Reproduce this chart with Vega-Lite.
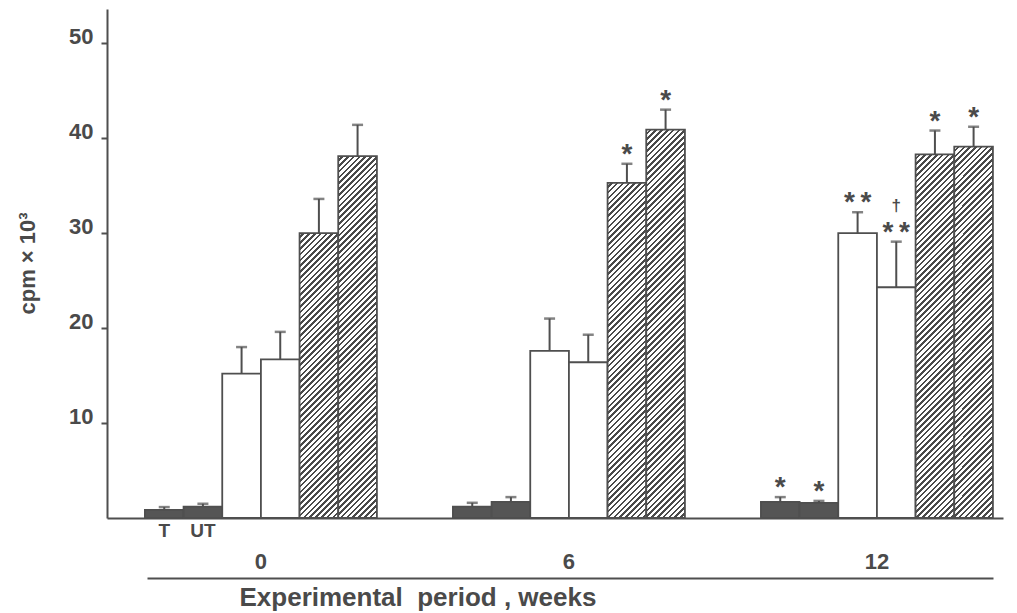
{
"$schema":"https://vega.github.io/schema/vega-lite/v6.json",
"width":896,"height":509,
"autosize":"none",
"padding":{"left":107,"top":9,"right":14,"bottom":95},
"background":"white",
"config":{"view":{"stroke":null},"font":"Liberation Sans"},
"params":[{"name":"hatch","value":[
{"offset":0,"color":"#fff"},{"offset":0.007,"color":"#fff"},{"offset":0.007,"color":"#4a4a4a"},{"offset":0.0125,"color":"#4a4a4a"},
{"offset":0.0125,"color":"#fff"},{"offset":0.0195,"color":"#fff"},{"offset":0.0195,"color":"#4a4a4a"},{"offset":0.025,"color":"#4a4a4a"},
{"offset":0.025,"color":"#fff"},{"offset":0.032,"color":"#fff"},{"offset":0.032,"color":"#4a4a4a"},{"offset":0.0375,"color":"#4a4a4a"},
{"offset":0.0375,"color":"#fff"},{"offset":0.0445,"color":"#fff"},{"offset":0.0445,"color":"#4a4a4a"},{"offset":0.05,"color":"#4a4a4a"},
{"offset":0.05,"color":"#fff"},{"offset":0.057,"color":"#fff"},{"offset":0.057,"color":"#4a4a4a"},{"offset":0.0625,"color":"#4a4a4a"},
{"offset":0.0625,"color":"#fff"},{"offset":0.0695,"color":"#fff"},{"offset":0.0695,"color":"#4a4a4a"},{"offset":0.075,"color":"#4a4a4a"},
{"offset":0.075,"color":"#fff"},{"offset":0.082,"color":"#fff"},{"offset":0.082,"color":"#4a4a4a"},{"offset":0.0875,"color":"#4a4a4a"},
{"offset":0.0875,"color":"#fff"},{"offset":0.0945,"color":"#fff"},{"offset":0.0945,"color":"#4a4a4a"},{"offset":0.1,"color":"#4a4a4a"},
{"offset":0.1,"color":"#fff"},{"offset":0.107,"color":"#fff"},{"offset":0.107,"color":"#4a4a4a"},{"offset":0.1125,"color":"#4a4a4a"},
{"offset":0.1125,"color":"#fff"},{"offset":0.1195,"color":"#fff"},{"offset":0.1195,"color":"#4a4a4a"},{"offset":0.125,"color":"#4a4a4a"},
{"offset":0.125,"color":"#fff"},{"offset":0.132,"color":"#fff"},{"offset":0.132,"color":"#4a4a4a"},{"offset":0.1375,"color":"#4a4a4a"},
{"offset":0.1375,"color":"#fff"},{"offset":0.1445,"color":"#fff"},{"offset":0.1445,"color":"#4a4a4a"},{"offset":0.15,"color":"#4a4a4a"},
{"offset":0.15,"color":"#fff"},{"offset":0.157,"color":"#fff"},{"offset":0.157,"color":"#4a4a4a"},{"offset":0.1625,"color":"#4a4a4a"},
{"offset":0.1625,"color":"#fff"},{"offset":0.1695,"color":"#fff"},{"offset":0.1695,"color":"#4a4a4a"},{"offset":0.175,"color":"#4a4a4a"},
{"offset":0.175,"color":"#fff"},{"offset":0.182,"color":"#fff"},{"offset":0.182,"color":"#4a4a4a"},{"offset":0.1875,"color":"#4a4a4a"},
{"offset":0.1875,"color":"#fff"},{"offset":0.1945,"color":"#fff"},{"offset":0.1945,"color":"#4a4a4a"},{"offset":0.2,"color":"#4a4a4a"},
{"offset":0.2,"color":"#fff"},{"offset":0.207,"color":"#fff"},{"offset":0.207,"color":"#4a4a4a"},{"offset":0.2125,"color":"#4a4a4a"},
{"offset":0.2125,"color":"#fff"},{"offset":0.2195,"color":"#fff"},{"offset":0.2195,"color":"#4a4a4a"},{"offset":0.225,"color":"#4a4a4a"},
{"offset":0.225,"color":"#fff"},{"offset":0.232,"color":"#fff"},{"offset":0.232,"color":"#4a4a4a"},{"offset":0.2375,"color":"#4a4a4a"},
{"offset":0.2375,"color":"#fff"},{"offset":0.2445,"color":"#fff"},{"offset":0.2445,"color":"#4a4a4a"},{"offset":0.25,"color":"#4a4a4a"},
{"offset":0.25,"color":"#fff"},{"offset":0.257,"color":"#fff"},{"offset":0.257,"color":"#4a4a4a"},{"offset":0.2625,"color":"#4a4a4a"},
{"offset":0.2625,"color":"#fff"},{"offset":0.2695,"color":"#fff"},{"offset":0.2695,"color":"#4a4a4a"},{"offset":0.275,"color":"#4a4a4a"},
{"offset":0.275,"color":"#fff"},{"offset":0.282,"color":"#fff"},{"offset":0.282,"color":"#4a4a4a"},{"offset":0.2875,"color":"#4a4a4a"},
{"offset":0.2875,"color":"#fff"},{"offset":0.2945,"color":"#fff"},{"offset":0.2945,"color":"#4a4a4a"},{"offset":0.3,"color":"#4a4a4a"},
{"offset":0.3,"color":"#fff"},{"offset":0.307,"color":"#fff"},{"offset":0.307,"color":"#4a4a4a"},{"offset":0.3125,"color":"#4a4a4a"},
{"offset":0.3125,"color":"#fff"},{"offset":0.3195,"color":"#fff"},{"offset":0.3195,"color":"#4a4a4a"},{"offset":0.325,"color":"#4a4a4a"},
{"offset":0.325,"color":"#fff"},{"offset":0.332,"color":"#fff"},{"offset":0.332,"color":"#4a4a4a"},{"offset":0.3375,"color":"#4a4a4a"},
{"offset":0.3375,"color":"#fff"},{"offset":0.3445,"color":"#fff"},{"offset":0.3445,"color":"#4a4a4a"},{"offset":0.35,"color":"#4a4a4a"},
{"offset":0.35,"color":"#fff"},{"offset":0.357,"color":"#fff"},{"offset":0.357,"color":"#4a4a4a"},{"offset":0.3625,"color":"#4a4a4a"},
{"offset":0.3625,"color":"#fff"},{"offset":0.3695,"color":"#fff"},{"offset":0.3695,"color":"#4a4a4a"},{"offset":0.375,"color":"#4a4a4a"},
{"offset":0.375,"color":"#fff"},{"offset":0.382,"color":"#fff"},{"offset":0.382,"color":"#4a4a4a"},{"offset":0.3875,"color":"#4a4a4a"},
{"offset":0.3875,"color":"#fff"},{"offset":0.3945,"color":"#fff"},{"offset":0.3945,"color":"#4a4a4a"},{"offset":0.4,"color":"#4a4a4a"},
{"offset":0.4,"color":"#fff"},{"offset":0.407,"color":"#fff"},{"offset":0.407,"color":"#4a4a4a"},{"offset":0.4125,"color":"#4a4a4a"},
{"offset":0.4125,"color":"#fff"},{"offset":0.4195,"color":"#fff"},{"offset":0.4195,"color":"#4a4a4a"},{"offset":0.425,"color":"#4a4a4a"},
{"offset":0.425,"color":"#fff"},{"offset":0.432,"color":"#fff"},{"offset":0.432,"color":"#4a4a4a"},{"offset":0.4375,"color":"#4a4a4a"},
{"offset":0.4375,"color":"#fff"},{"offset":0.4445,"color":"#fff"},{"offset":0.4445,"color":"#4a4a4a"},{"offset":0.45,"color":"#4a4a4a"},
{"offset":0.45,"color":"#fff"},{"offset":0.457,"color":"#fff"},{"offset":0.457,"color":"#4a4a4a"},{"offset":0.4625,"color":"#4a4a4a"},
{"offset":0.4625,"color":"#fff"},{"offset":0.4695,"color":"#fff"},{"offset":0.4695,"color":"#4a4a4a"},{"offset":0.475,"color":"#4a4a4a"},
{"offset":0.475,"color":"#fff"},{"offset":0.482,"color":"#fff"},{"offset":0.482,"color":"#4a4a4a"},{"offset":0.4875,"color":"#4a4a4a"},
{"offset":0.4875,"color":"#fff"},{"offset":0.4945,"color":"#fff"},{"offset":0.4945,"color":"#4a4a4a"},{"offset":0.5,"color":"#4a4a4a"},
{"offset":0.5,"color":"#fff"},{"offset":0.507,"color":"#fff"},{"offset":0.507,"color":"#4a4a4a"},{"offset":0.5125,"color":"#4a4a4a"},
{"offset":0.5125,"color":"#fff"},{"offset":0.5195,"color":"#fff"},{"offset":0.5195,"color":"#4a4a4a"},{"offset":0.525,"color":"#4a4a4a"},
{"offset":0.525,"color":"#fff"},{"offset":0.532,"color":"#fff"},{"offset":0.532,"color":"#4a4a4a"},{"offset":0.5375,"color":"#4a4a4a"},
{"offset":0.5375,"color":"#fff"},{"offset":0.5445,"color":"#fff"},{"offset":0.5445,"color":"#4a4a4a"},{"offset":0.55,"color":"#4a4a4a"},
{"offset":0.55,"color":"#fff"},{"offset":0.557,"color":"#fff"},{"offset":0.557,"color":"#4a4a4a"},{"offset":0.5625,"color":"#4a4a4a"},
{"offset":0.5625,"color":"#fff"},{"offset":0.5695,"color":"#fff"},{"offset":0.5695,"color":"#4a4a4a"},{"offset":0.575,"color":"#4a4a4a"},
{"offset":0.575,"color":"#fff"},{"offset":0.582,"color":"#fff"},{"offset":0.582,"color":"#4a4a4a"},{"offset":0.5875,"color":"#4a4a4a"},
{"offset":0.5875,"color":"#fff"},{"offset":0.5945,"color":"#fff"},{"offset":0.5945,"color":"#4a4a4a"},{"offset":0.6,"color":"#4a4a4a"},
{"offset":0.6,"color":"#fff"},{"offset":0.607,"color":"#fff"},{"offset":0.607,"color":"#4a4a4a"},{"offset":0.6125,"color":"#4a4a4a"},
{"offset":0.6125,"color":"#fff"},{"offset":0.6195,"color":"#fff"},{"offset":0.6195,"color":"#4a4a4a"},{"offset":0.625,"color":"#4a4a4a"},
{"offset":0.625,"color":"#fff"},{"offset":0.632,"color":"#fff"},{"offset":0.632,"color":"#4a4a4a"},{"offset":0.6375,"color":"#4a4a4a"},
{"offset":0.6375,"color":"#fff"},{"offset":0.6445,"color":"#fff"},{"offset":0.6445,"color":"#4a4a4a"},{"offset":0.65,"color":"#4a4a4a"},
{"offset":0.65,"color":"#fff"},{"offset":0.657,"color":"#fff"},{"offset":0.657,"color":"#4a4a4a"},{"offset":0.6625,"color":"#4a4a4a"},
{"offset":0.6625,"color":"#fff"},{"offset":0.6695,"color":"#fff"},{"offset":0.6695,"color":"#4a4a4a"},{"offset":0.675,"color":"#4a4a4a"},
{"offset":0.675,"color":"#fff"},{"offset":0.682,"color":"#fff"},{"offset":0.682,"color":"#4a4a4a"},{"offset":0.6875,"color":"#4a4a4a"},
{"offset":0.6875,"color":"#fff"},{"offset":0.6945,"color":"#fff"},{"offset":0.6945,"color":"#4a4a4a"},{"offset":0.7,"color":"#4a4a4a"},
{"offset":0.7,"color":"#fff"},{"offset":0.707,"color":"#fff"},{"offset":0.707,"color":"#4a4a4a"},{"offset":0.7125,"color":"#4a4a4a"},
{"offset":0.7125,"color":"#fff"},{"offset":0.7195,"color":"#fff"},{"offset":0.7195,"color":"#4a4a4a"},{"offset":0.725,"color":"#4a4a4a"},
{"offset":0.725,"color":"#fff"},{"offset":0.732,"color":"#fff"},{"offset":0.732,"color":"#4a4a4a"},{"offset":0.7375,"color":"#4a4a4a"},
{"offset":0.7375,"color":"#fff"},{"offset":0.7445,"color":"#fff"},{"offset":0.7445,"color":"#4a4a4a"},{"offset":0.75,"color":"#4a4a4a"},
{"offset":0.75,"color":"#fff"},{"offset":0.757,"color":"#fff"},{"offset":0.757,"color":"#4a4a4a"},{"offset":0.7625,"color":"#4a4a4a"},
{"offset":0.7625,"color":"#fff"},{"offset":0.7695,"color":"#fff"},{"offset":0.7695,"color":"#4a4a4a"},{"offset":0.775,"color":"#4a4a4a"},
{"offset":0.775,"color":"#fff"},{"offset":0.782,"color":"#fff"},{"offset":0.782,"color":"#4a4a4a"},{"offset":0.7875,"color":"#4a4a4a"},
{"offset":0.7875,"color":"#fff"},{"offset":0.7945,"color":"#fff"},{"offset":0.7945,"color":"#4a4a4a"},{"offset":0.8,"color":"#4a4a4a"},
{"offset":0.8,"color":"#fff"},{"offset":0.807,"color":"#fff"},{"offset":0.807,"color":"#4a4a4a"},{"offset":0.8125,"color":"#4a4a4a"},
{"offset":0.8125,"color":"#fff"},{"offset":0.8195,"color":"#fff"},{"offset":0.8195,"color":"#4a4a4a"},{"offset":0.825,"color":"#4a4a4a"},
{"offset":0.825,"color":"#fff"},{"offset":0.832,"color":"#fff"},{"offset":0.832,"color":"#4a4a4a"},{"offset":0.8375,"color":"#4a4a4a"},
{"offset":0.8375,"color":"#fff"},{"offset":0.8445,"color":"#fff"},{"offset":0.8445,"color":"#4a4a4a"},{"offset":0.85,"color":"#4a4a4a"},
{"offset":0.85,"color":"#fff"},{"offset":0.857,"color":"#fff"},{"offset":0.857,"color":"#4a4a4a"},{"offset":0.8625,"color":"#4a4a4a"},
{"offset":0.8625,"color":"#fff"},{"offset":0.8695,"color":"#fff"},{"offset":0.8695,"color":"#4a4a4a"},{"offset":0.875,"color":"#4a4a4a"},
{"offset":0.875,"color":"#fff"},{"offset":0.882,"color":"#fff"},{"offset":0.882,"color":"#4a4a4a"},{"offset":0.8875,"color":"#4a4a4a"},
{"offset":0.8875,"color":"#fff"},{"offset":0.8945,"color":"#fff"},{"offset":0.8945,"color":"#4a4a4a"},{"offset":0.9,"color":"#4a4a4a"},
{"offset":0.9,"color":"#fff"},{"offset":0.907,"color":"#fff"},{"offset":0.907,"color":"#4a4a4a"},{"offset":0.9125,"color":"#4a4a4a"},
{"offset":0.9125,"color":"#fff"},{"offset":0.9195,"color":"#fff"},{"offset":0.9195,"color":"#4a4a4a"},{"offset":0.925,"color":"#4a4a4a"},
{"offset":0.925,"color":"#fff"},{"offset":0.932,"color":"#fff"},{"offset":0.932,"color":"#4a4a4a"},{"offset":0.9375,"color":"#4a4a4a"},
{"offset":0.9375,"color":"#fff"},{"offset":0.9445,"color":"#fff"},{"offset":0.9445,"color":"#4a4a4a"},{"offset":0.95,"color":"#4a4a4a"},
{"offset":0.95,"color":"#fff"},{"offset":0.957,"color":"#fff"},{"offset":0.957,"color":"#4a4a4a"},{"offset":0.9625,"color":"#4a4a4a"},
{"offset":0.9625,"color":"#fff"},{"offset":0.9695,"color":"#fff"},{"offset":0.9695,"color":"#4a4a4a"},{"offset":0.975,"color":"#4a4a4a"},
{"offset":0.975,"color":"#fff"},{"offset":0.982,"color":"#fff"},{"offset":0.982,"color":"#4a4a4a"},{"offset":0.9875,"color":"#4a4a4a"},
{"offset":0.9875,"color":"#fff"},{"offset":0.9945,"color":"#fff"},{"offset":0.9945,"color":"#4a4a4a"},{"offset":1,"color":"#4a4a4a"}
]}],
"data":{"values":[
{"week":"0","bar":"T","cpm":0.85,"hi":1.15,"sig":"","dag":"","sub":"T"},
{"week":"0","bar":"UT","cpm":1.2,"hi":1.5,"sig":"","dag":"","sub":"UT"},
{"week":"0","bar":"W1","cpm":15.2,"hi":18.0,"sig":"","dag":"","sub":""},
{"week":"0","bar":"W2","cpm":16.7,"hi":19.6,"sig":"","dag":"","sub":""},
{"week":"0","bar":"H1","cpm":30.0,"hi":33.6,"sig":"","dag":"","sub":""},
{"week":"0","bar":"H2","cpm":38.1,"hi":41.4,"sig":"","dag":"","sub":""},
{"week":"6","bar":"T","cpm":1.2,"hi":1.6,"sig":"","dag":"","sub":""},
{"week":"6","bar":"UT","cpm":1.7,"hi":2.2,"sig":"","dag":"","sub":""},
{"week":"6","bar":"W1","cpm":17.6,"hi":21.0,"sig":"","dag":"","sub":""},
{"week":"6","bar":"W2","cpm":16.4,"hi":19.3,"sig":"","dag":"","sub":""},
{"week":"6","bar":"H1","cpm":35.3,"hi":37.3,"sig":"*","dag":"","sub":""},
{"week":"6","bar":"H2","cpm":40.9,"hi":43.0,"sig":"*","dag":"","sub":""},
{"week":"12","bar":"T","cpm":1.7,"hi":2.2,"sig":"*","dag":"","sub":""},
{"week":"12","bar":"UT","cpm":1.6,"hi":1.8,"sig":"*","dag":"","sub":""},
{"week":"12","bar":"W1","cpm":30.0,"hi":32.2,"sig":"*\u2009*","dag":"","sub":""},
{"week":"12","bar":"W2","cpm":24.3,"hi":29.1,"sig":"*\u2009*","dag":"†","sub":""},
{"week":"12","bar":"H1","cpm":38.3,"hi":40.8,"sig":"*","dag":"","sub":""},
{"week":"12","bar":"H2","cpm":39.1,"hi":41.2,"sig":"*","dag":"","sub":""}
]},
"layer":[
{
"encoding":{
"x":{"field":"week","type":"nominal","sort":["0","6","12"],
"scale":{"paddingInner":0.2468,"paddingOuter":0.0779,"align":0.79},
"axis":{"orient":"bottom","title":null,"labelAngle":0,"ticks":false,"domain":true,"domainColor":"#4f4f4f","domainWidth":2,
"labelFontSize":22,"labelFontWeight":"bold","labelColor":"#4a4a4a","labelPadding":33,"labelFont":"Liberation Sans"}},
"xOffset":{"field":"bar","type":"nominal","sort":["T","UT","W1","W2","H1","H2"],"scale":{"paddingInner":0,"paddingOuter":0}},
"y":{"field":"cpm","type":"quantitative","scale":{"domain":[0,53.6],"nice":false},
"axis":{"values":[10,20,30,40,50],"grid":false,"domainColor":"#4f4f4f","domainWidth":2,"tickColor":"#4f4f4f","tickWidth":2,"tickSize":6,
"labelFontSize":22,"labelFontWeight":"bold","labelColor":"#4a4a4a","labelBaseline":"alphabetic","labelPadding":8,"labelFont":"Liberation Sans",
"title":"cpm × 10³","titleFontSize":22,"titleFontWeight":"bold","titleColor":"#4a4a4a","titleFont":"Liberation Sans","titleX":-80,"titleY":254,"titleAngle":-90,"titleAlign":"center","titleBaseline":"middle"}}
},
"layer":[
{"mark":{"type":"bar","stroke":"#4f4f4f","strokeWidth":1.8,
"fill":{"expr":"indexof(['T','UT'], datum.bar) >= 0 ? '#555555' : (indexof(['H1','H2'], datum.bar) >= 0 ? {gradient: 'linear', x1: 0, y1: 0, x2: 464*38.67/(38.67*38.67 + pow(datum.cpm*height/53.6, 2)), y2: 464*(datum.cpm*height/53.6)/(38.67*38.67 + pow(datum.cpm*height/53.6, 2)), stops: hatch} : '#ffffff')"}}},
{"mark":{"type":"rule","color":"#4f4f4f","strokeWidth":2},"encoding":{"y2":{"field":"hi"}}},
{"mark":{"type":"tick","color":"#4f4f4f","thickness":2.5,"size":11},"encoding":{"y":{"field":"hi","type":"quantitative"}}},
{"transform":[{"filter":"datum.sig != ''"}],"mark":{"type":"text","fontSize":28,"fontWeight":"bold","color":"#4a4a4a","baseline":"alphabetic","dy":-1,"font":"Liberation Sans"},
"encoding":{"y":{"field":"hi","type":"quantitative"},"text":{"field":"sig"}}},
{"transform":[{"filter":"datum.dag != ''"}],"mark":{"type":"text","fontSize":17,"fontWeight":"bold","color":"#4a4a4a","baseline":"middle","dy":-36,"font":"Liberation Sans"},
"encoding":{"y":{"field":"hi","type":"quantitative"},"text":{"field":"dag"}}},
{"transform":[{"filter":"datum.sub != ''"}],"mark":{"type":"text","fontSize":19,"fontWeight":"bold","color":"#4a4a4a","baseline":"middle","dy":13,"font":"Liberation Sans"},
"encoding":{"y":{"datum":0},"text":{"field":"sub"}}}
]
},
{
"mark":{"type":"point","opacity":0},
"encoding":{
"x":{"field":"week","type":"nominal","sort":["0","6","12"],"scale":{"range":[40,886],"paddingInner":0,"paddingOuter":0},
"axis":{"orient":"bottom","offset":60,"labels":false,"ticks":false,"domain":true,"domainColor":"#4f4f4f","domainWidth":2,
"title":"Experimental\u00a0\u00a0period\u00a0,\u00a0weeks","titleFontSize":26,"titleFontWeight":"bold","titleColor":"#4a4a4a","titleFont":"Liberation Sans","titlePadding":6,"titleX":132,"titleAlign":"left"}},
"y":{"field":"cpm","type":"quantitative"}
}
}
],
"resolve":{"scale":{"x":"independent"},"axis":{"x":"independent"}}
}
